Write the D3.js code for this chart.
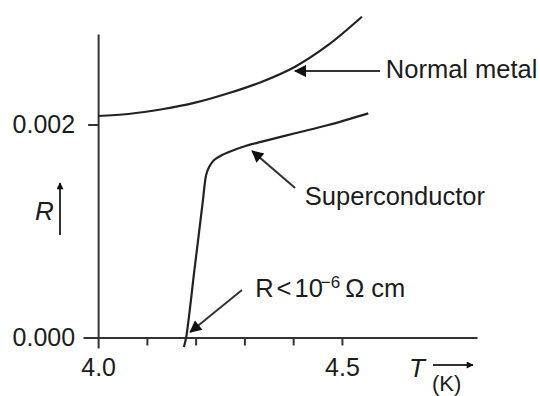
<!DOCTYPE html>
<meta charset="utf-8">
<style>
    body { margin: 0; background: #fff; }
    svg { display: block; }
    text { fill: #1c1c1c; font-family: "Liberation Sans", Arial, sans-serif; }
    .axis path, .axis line { stroke: #333; stroke-width: 2; }
    .axis text { font-size: 25px; }
    path.curve { fill: none; stroke: #222; stroke-width: 2.2; }
    line.pointer { stroke: #333; stroke-width: 2; }
    .note { font-size: 25.5px; }
</style>
<body>
<script src="https://cdn.jsdelivr.net/npm/d3@7"></script>
<script>
    // temperatures (K) and resistance values
    var normalT = [4.0, 4.062, 4.131, 4.199, 4.267, 4.336, 4.404, 4.472, 4.541];
    var normalR = [0.002080, 0.002099, 0.002143, 0.002205, 0.002293, 0.002402, 0.002543, 0.002747, 0.003012];

    var superT = [4.176, 4.1805, 4.198, 4.215, 4.2184, 4.2215, 4.2276, 4.2379, 4.2523, 4.267, 4.302, 4.336, 4.404, 4.472, 4.554];
    var superR = [-0.000089, 0, 0.000653, 0.001291, 0.001432, 0.001526, 0.001601, 0.001667, 0.001709, 0.001739, 0.001798, 0.001839, 0.001918, 0.001995, 0.002105];

    var xTicks = [4.0, 4.1, 4.2, 4.3, 4.4, 4.5];
    var xTickLabels = {"4": "4.0", "4.5": "4.5"};
    var yTicks = [0, 0.002];

    // annotations: arrow tip, arrow tail, label anchor (T, R)
    var notes = [
        {name: "Normal metal", tip: [4.404, 0.002502], tail: [4.578, 0.002502], label: [4.590, 0.002436]},
        {name: "Superconductor", tip: [4.316, 0.001751], tail: [4.404, 0.001404], label: [4.424, 0.001244]},
        {name: "R<10", tip: [4.189, 0.0000516], tail: [4.295, 0.000446], label: [4.322, 0.000380]}
    ];

    var W = 540, H = 396;

    var x = d3.scaleLinear().domain([3.969, 4.777]).range([83, 477]);
    var y = d3.scaleLinear().domain([0, 0.00285]).range([337.5, 34]);

    var svg = d3.select("body").append("svg")
        .attr("width", W)
        .attr("height", H);

    var defs = svg.append("defs");
    defs.append("marker")
        .attr("id", "head")
        .attr("viewBox", "0 0 10 10")
        .attr("refX", 9)
        .attr("refY", 5)
        .attr("markerUnits", "userSpaceOnUse")
        .attr("markerWidth", 14)
        .attr("markerHeight", 12)
        .attr("orient", "auto")
        .append("path")
        .attr("d", "M0,0 L10,5 L0,10 z")
        .attr("fill", "#111");
    defs.append("marker")
        .attr("id", "small")
        .attr("viewBox", "0 0 10 10")
        .attr("refX", 9)
        .attr("refY", 5)
        .attr("markerUnits", "userSpaceOnUse")
        .attr("markerWidth", 10)
        .attr("markerHeight", 7)
        .attr("orient", "auto")
        .append("path")
        .attr("d", "M0,0 L10,5 L0,10 z")
        .attr("fill", "#111");

    // x axis
    var xAxis = d3.axisBottom(x)
        .tickValues(xTicks)
        .tickSize(8)
        .tickSizeOuter(0)
        .tickPadding(12.5)
        .tickFormat(function(d) { return xTickLabels[String(+d.toFixed(1))] || ""; });

    var gx = svg.append("g")
        .attr("class", "x axis")
        .attr("transform", "translate(0," + y(0) + ")")
        .call(xAxis);
    gx.attr("font-family", null).attr("font-size", null);
    gx.selectAll(".tick").filter(function(d) { return d === 4.0; })
        .select("line").attr("y2", 11);

    // y axis
    var yAxis = d3.axisLeft(y)
        .tickValues(yTicks)
        .tickSize(10)
        .tickSizeOuter(0)
        .tickPadding(13)
        .tickFormat(d3.format(".3f"));

    var gy = svg.append("g")
        .attr("class", "y axis")
        .attr("transform", "translate(" + x(4.0) + ",0)")
        .call(yAxis);
    gy.attr("font-family", null).attr("font-size", null);
    gy.selectAll(".tick text").attr("dy", "0.3em");

    // axis names with little arrows
    svg.append("text")
        .attr("x", 35).attr("y", 220)
        .attr("font-size", 26).attr("font-style", "italic")
        .text("R");
    svg.append("line")
        .attr("class", "pointer")
        .attr("x1", 60).attr("y1", 235)
        .attr("x2", 60).attr("y2", 183)
        .attr("marker-end", "url(#small)");

    svg.append("text")
        .attr("x", 409).attr("y", 377)
        .attr("font-size", 26).attr("font-style", "italic")
        .text("T");
    svg.append("line")
        .attr("class", "pointer")
        .attr("x1", 433).attr("y1", 365)
        .attr("x2", 473).attr("y2", 365)
        .attr("marker-end", "url(#small)");
    svg.append("text")
        .attr("x", 432).attr("y", 391)
        .attr("font-size", 22)
        .text("(K)");

    // curves
    var line = d3.line()
        .x(function(d) { return x(d[0]); })
        .y(function(d) { return y(d[1]); })
        .curve(d3.curveMonotoneX);

    var smooth = d3.line()
        .x(function(d) { return x(d[0]); })
        .y(function(d) { return y(d[1]); })
        .curve(d3.curveCatmullRom.alpha(0.5));

    svg.append("path")
        .attr("class", "curve normal")
        .attr("d", line(d3.zip(normalT, normalR)));

    svg.append("path")
        .attr("class", "curve super")
        .attr("d", smooth(d3.zip(superT, superR)));

    // annotation arrows and labels
    notes.forEach(function(n) {
        svg.append("line")
            .attr("class", "pointer")
            .attr("x1", x(n.tail[0])).attr("y1", y(n.tail[1]))
            .attr("x2", x(n.tip[0])).attr("y2", y(n.tip[1]))
            .attr("marker-end", "url(#head)");

        var t = svg.append("text")
            .attr("class", "note")
            .attr("x", x(n.label[0]))
            .attr("y", y(n.label[1]));

        if (n.name === "R<10") {
            t.append("tspan").text("R");
            t.append("tspan").attr("dx", 3).text("<");
            t.append("tspan").attr("dx", 3).text("10");
            t.append("tspan").attr("dx", -2).attr("dy", -9).attr("font-size", 17).text("\u22126");
            t.append("tspan").attr("dx", 5).attr("dy", 9).text("\u03A9 cm");
        } else {
            t.text(n.name);
        }
    });
</script>
</body>
